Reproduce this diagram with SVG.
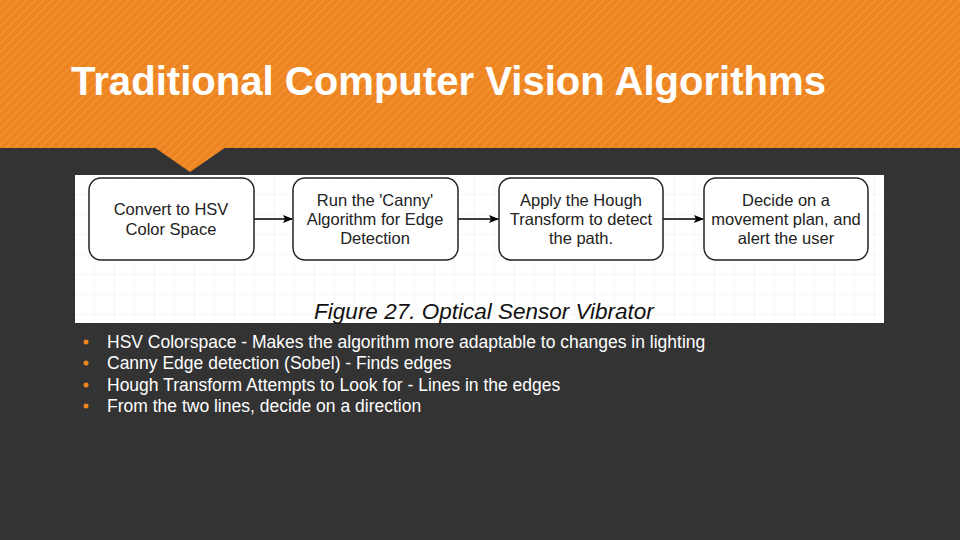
<svg xmlns="http://www.w3.org/2000/svg" width="960" height="540" viewBox="0 0 960 540">
<defs>
<pattern id="st" width="6" height="6" patternUnits="userSpaceOnUse" patternTransform="rotate(45)"><rect width="6" height="6" fill="#ee8420"/><rect width="2" height="6" fill="#f09030"/></pattern>
<pattern id="grid" width="20" height="20" patternUnits="userSpaceOnUse" x="75" y="175"><rect width="20" height="20" fill="#fff"/><path d="M20 0V20H0" fill="none" stroke="#eee" stroke-width="1"/></pattern>
<marker id="ar" markerWidth="10" markerHeight="8" refX="9" refY="4" orient="auto" markerUnits="userSpaceOnUse"><path d="M0 0L10 4L0 8L2 4Z" fill="#000"/></marker>
</defs>
<style>
.n rect{fill:#fff;stroke:#222;stroke-width:1.5}
.n text{font-family:"Liberation Sans",Arial,sans-serif;font-size:16.5px;fill:#222;text-anchor:middle}
.b{font-family:"Liberation Sans",Arial,sans-serif;font-size:17.5px;fill:#fff}
</style>
<rect width="960" height="540" fill="#333"/>
<rect width="960" height="148" fill="url(#st)"/>
<polygon points="154,147 226,147 190,172" fill="url(#st)"/>
<text x="71" y="95" font-family="Liberation Sans,Arial,sans-serif" font-size="40" font-weight="bold" fill="#fff" textLength="755" lengthAdjust="spacingAndGlyphs">Traditional Computer Vision Algorithms</text>
<rect x="75" y="175" width="809" height="148" fill="url(#grid)"/>
<g id="connectors" stroke="#000" stroke-width="1.5" marker-end="url(#ar)">
<line x1="254" y1="219" x2="292" y2="219"/>
<line x1="458" y1="219" x2="498" y2="219"/>
<line x1="663" y1="219" x2="703" y2="219"/>
</g>
<g id="n1" class="n"><rect x="89" y="178" width="165" height="82" rx="12"/><text x="171" y="215">Convert to HSV</text><text x="171" y="235">Color Space</text></g>
<g id="n2" class="n"><rect x="293" y="178" width="165" height="82" rx="12"/><text x="375" y="206">Run the 'Canny'</text><text x="375" y="225">Algorithm for Edge</text><text x="375" y="244">Detection</text></g>
<g id="n3" class="n"><rect x="499" y="178" width="164" height="82" rx="12"/><text x="581" y="206">Apply the Hough</text><text x="581" y="225">Transform to detect</text><text x="581" y="244">the path.</text></g>
<g id="n4" class="n"><rect x="704" y="178" width="164" height="82" rx="12"/><text x="786" y="206">Decide on a</text><text x="786" y="225">movement plan, and</text><text x="786" y="244">alert the user</text></g>
<text x="484" y="319" font-family="Liberation Sans,Arial,sans-serif" font-size="22.5" font-style="italic" fill="#111" text-anchor="middle">Figure 27. Optical Sensor Vibrator</text>
<g fill="#ee8420"><circle cx="86" cy="342" r="2.5"/><circle cx="86" cy="363" r="2.5"/><circle cx="86" cy="385" r="2.5"/><circle cx="86" cy="406" r="2.5"/></g>
<text class="b" x="107" y="348">HSV Colorspace - Makes the algorithm more adaptable to changes in lighting</text>
<text class="b" x="107" y="369">Canny Edge detection (Sobel) - Finds edges</text>
<text class="b" x="107" y="391">Hough Transform Attempts to Look for  - Lines in the edges</text>
<text class="b" x="107" y="412">From the two lines, decide on a direction</text>
</svg>
